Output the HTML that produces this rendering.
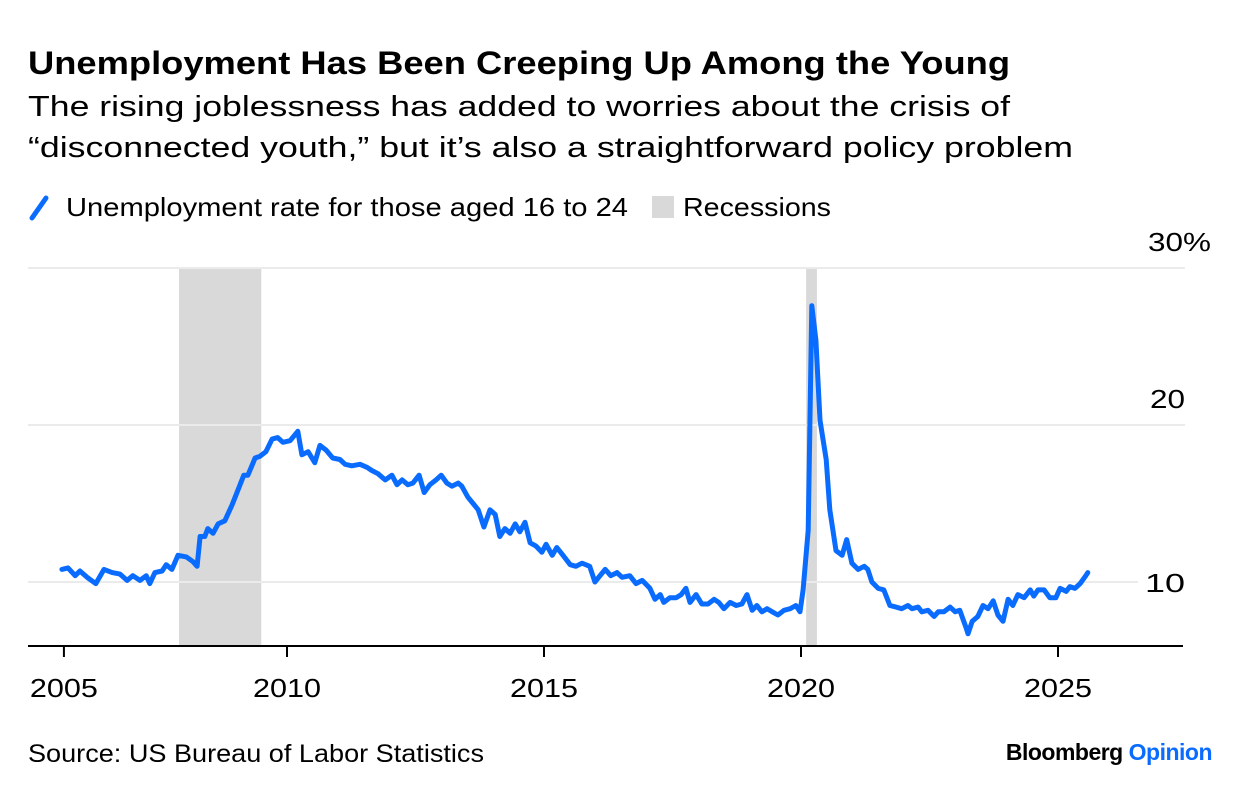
<!DOCTYPE html>
<html><head><meta charset="utf-8">
<style>
body{margin:0;background:#fff;width:1240px;height:796px;overflow:hidden;font-family:"Liberation Sans",sans-serif;color:#000}
</style></head>
<body>
<svg width="1240" height="796" xmlns="http://www.w3.org/2000/svg" font-family="Liberation Sans, sans-serif">
<text x="28" y="74" font-size="32" font-weight="bold" textLength="982" lengthAdjust="spacingAndGlyphs">Unemployment Has Been Creeping Up Among the Young</text>
<text x="28" y="116" font-size="29" textLength="982" lengthAdjust="spacingAndGlyphs">The rising joblessness has added to worries about the crisis of</text>
<text x="28" y="157" font-size="29" textLength="1045" lengthAdjust="spacingAndGlyphs">“disconnected youth,” but it’s also a straightforward policy problem</text>
<g>
<line x1="32" y1="218" x2="46" y2="198" stroke="#0a6cff" stroke-width="5" stroke-linecap="round"/>
<text x="66" y="216" font-size="26" textLength="562" lengthAdjust="spacingAndGlyphs">Unemployment rate for those aged 16 to 24</text>
<rect x="652" y="196" width="22" height="22" fill="#d9d9d9"/>
<text x="683" y="216" font-size="26" textLength="148" lengthAdjust="spacingAndGlyphs">Recessions</text>
</g>
<g id="plot"></g>
<text x="28" y="762" font-size="25" textLength="456" lengthAdjust="spacingAndGlyphs">Source: US Bureau of Labor Statistics</text>
<text x="1212" y="760" font-size="23" font-weight="bold" text-anchor="end" letter-spacing="-0.5">Bloomberg <tspan fill="#0a6cff">Opinion</tspan></text>
</svg>
<script>
const years=[2005.62,2005.74,2005.88,2005.97,2006.11,2006.28,2006.44,2006.60,2006.75,2006.89,2007.00,2007.14,2007.26,2007.33,2007.43,2007.57,2007.65,2007.76,2007.88,2008.04,2008.17,2008.25,2008.31,2008.40,2008.46,2008.56,2008.66,2008.79,2008.93,2009.05,2009.16,2009.24,2009.38,2009.47,2009.59,2009.71,2009.82,2009.92,2010.06,2010.21,2010.29,2010.41,2010.54,2010.64,2010.76,2010.89,2011.03,2011.13,2011.26,2011.42,2011.56,2011.65,2011.77,2011.91,2012.04,2012.14,2012.24,2012.35,2012.45,2012.57,2012.67,2012.78,2012.90,2013.00,2013.11,2013.21,2013.33,2013.40,2013.52,2013.62,2013.72,2013.83,2013.95,2014.05,2014.14,2014.24,2014.34,2014.44,2014.53,2014.63,2014.73,2014.84,2014.96,2015.04,2015.16,2015.25,2015.37,2015.51,2015.62,2015.74,2015.89,2015.99,2016.09,2016.19,2016.30,2016.42,2016.52,2016.67,2016.79,2016.91,2017.06,2017.16,2017.26,2017.33,2017.45,2017.57,2017.67,2017.76,2017.84,2017.96,2018.07,2018.19,2018.31,2018.40,2018.50,2018.62,2018.74,2018.85,2018.95,2019.05,2019.14,2019.24,2019.34,2019.44,2019.55,2019.67,2019.79,2019.90,2019.98,2020.04,2020.14,2020.21,2020.29,2020.37,2020.49,2020.56,2020.68,2020.80,2020.89,2020.99,2021.11,2021.23,2021.30,2021.38,2021.50,2021.61,2021.73,2021.85,2021.96,2022.08,2022.16,2022.28,2022.35,2022.47,2022.59,2022.67,2022.78,2022.90,2023.00,2023.09,2023.21,2023.25,2023.33,2023.44,2023.54,2023.64,2023.74,2023.83,2023.93,2024.03,2024.12,2024.22,2024.34,2024.46,2024.53,2024.61,2024.73,2024.84,2024.96,2025.04,2025.16,2025.23,2025.33,2025.43,2025.54,2025.58];
const rates=[10.8,10.9,10.4,10.7,10.3,9.9,10.8,10.6,10.5,10.1,10.4,10.1,10.4,9.9,10.6,10.7,11.1,10.8,11.7,11.6,11.3,11.0,12.9,12.9,13.4,13.1,13.7,13.9,14.9,15.9,16.8,16.8,17.9,18.0,18.3,19.1,19.2,18.9,19.0,19.6,18.1,18.3,17.6,18.7,18.4,17.9,17.8,17.5,17.4,17.5,17.3,17.1,16.9,16.5,16.8,16.2,16.5,16.2,16.3,16.8,15.7,16.2,16.5,16.8,16.3,16.1,16.3,16.1,15.4,15.0,14.6,13.5,14.6,14.3,12.9,13.4,13.1,13.7,13.2,13.8,12.5,12.3,11.9,12.4,11.7,12.2,11.7,11.1,11.0,11.2,11.0,10.0,10.4,10.8,10.4,10.6,10.3,10.4,9.9,10.1,9.6,8.9,9.2,8.7,9.0,9.0,9.2,9.6,8.7,9.2,8.6,8.6,8.9,8.7,8.3,8.7,8.5,8.6,9.2,8.2,8.5,8.1,8.3,8.1,7.9,8.2,8.3,8.5,8.1,9.5,13.3,27.6,25.4,20.3,17.8,14.6,12.0,11.7,12.7,11.2,10.8,11.0,10.8,10.0,9.6,9.5,8.5,8.4,8.3,8.5,8.3,8.4,8.1,8.2,7.8,8.1,8.1,8.4,8.1,8.2,7.1,6.7,7.5,7.8,8.5,8.3,8.8,7.9,7.5,8.9,8.5,9.2,9.0,9.5,9.1,9.5,9.5,9.0,9.0,9.6,9.4,9.7,9.6,9.9,10.4,10.6];
const recessionStarts=[2007.9,2020.1];
const recessionEnds=[2009.5,2020.31];
const yTicks=[10,20,30];
const yTickLabels=["10","20","30%"];
const xTicks=[2005.66,2010,2015,2020,2025];
const xTickLabels=["2005","2010","2015","2020","2025"];

const X=yr=>287+(yr-2010)*51.4;
const Y=v=>582-(v-10)*15.7;
const NS="http://www.w3.org/2000/svg";
const plot=document.getElementById('plot');
function mk(tag,attrs){const e=document.createElementNS(NS,tag);for(const k in attrs)e.setAttribute(k,attrs[k]);plot.appendChild(e);return e;}

recessionStarts.forEach((s,i)=>{
  const r=mk('rect',{x:X(s),y:268,width:X(recessionEnds[i])-X(s),height:646-268,fill:'#d9d9d9'});
  
  
});
yTicks.forEach((t,i)=>{
  const l=mk('line',{x1:28,x2:t===10?1138:1185,y1:Y(t),y2:Y(t),stroke:'#ebebeb','stroke-width':2});
  
  
  const w=t===30?63:(t===10?40:35);
  const tx=mk('text',{x:t===30?1211:1185,y:t===10?Y(t)+10:Y(t)-17,'font-size':26,'text-anchor':'end',textLength:w,lengthAdjust:'spacingAndGlyphs'});
  tx.textContent=yTickLabels[i];
  
  
});
const ax=mk('line',{x1:28,x2:1183,y1:646,y2:646,stroke:'#000','stroke-width':2});


xTicks.forEach((t,i)=>{
  const l=mk('line',{x1:X(t),x2:X(t),y1:646,y2:657,stroke:'#000','stroke-width':2});
  
  
  const tx=mk('text',{x:X(t),y:697,'font-size':26,'text-anchor':'middle',textLength:68,lengthAdjust:'spacingAndGlyphs'});
  tx.textContent=xTickLabels[i];
  
  
});
const d=years.map((yr,i)=>(i?'L':'M')+X(yr).toFixed(1)+','+Y(rates[i]).toFixed(1)).join('');
const p=mk('path',{d:d,fill:'none',stroke:'#0a6cff','stroke-width':5,'stroke-linejoin':'round','stroke-linecap':'round'});


</script>
</body></html>
